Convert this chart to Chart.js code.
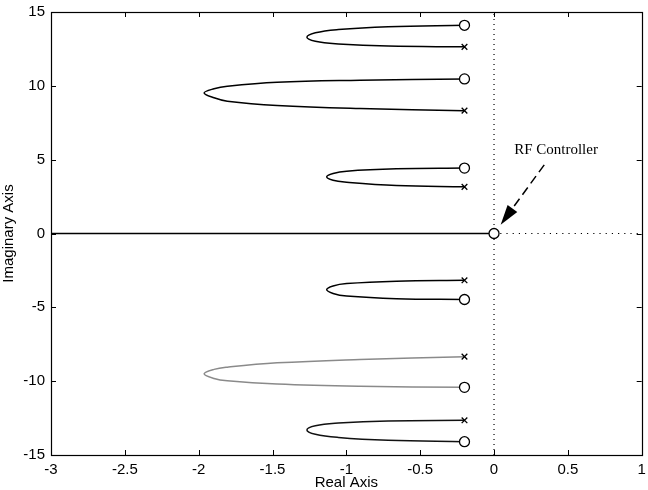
<!DOCTYPE html>
<html>
<head>
<meta charset="utf-8">
<script src="https://cdn.jsdelivr.net/npm/chart.js@4/dist/chart.umd.min.js"></script>
<style>
	html, body { margin: 0; padding: 0; background: #fff; }
</style>
</head>
<body>
<canvas id="locus" width="648" height="490"></canvas>
<script>
'use strict'

// axis ticks
const xTicks = [-3, -2.5, -2, -1.5, -1, -0.5, 0, 0.5, 1];
const yTicks = [-15, -10, -5, 0, 5, 10, 15];

// open-loop poles (x) and zeros (o)
const polesX = [-0.2, -0.2, -0.2, -0.2, -0.2, -0.2];
const polesY = [12.64, 8.32, 3.16, -3.17, -8.34, -12.65];
const zerosX = [-0.2, -0.2, -0.2, -0.2, -0.2, -0.2];
const zerosY = [14.1, 10.47, 4.43, -4.47, -10.42, -14.1];

// RF controller zero
const rfZeroX = [0];
const rfZeroY = [0];

// locus branches (zero -> tip -> pole)
const branch1X = [-0.2, -0.717, -1.054, -1.21, -1.267, -1.21, -1.054, -0.717, -0.2];
const branch1Y = [14.1, 14.0, 13.81, 13.59, 13.29, 13.02, 12.84, 12.69, 12.64];
const branch2X = [-0.2, -0.908, -1.469, -1.806, -1.896, -1.963, -1.896, -1.806, -1.469, -0.908, -0.2];
const branch2Y = [10.47, 10.38, 10.24, 9.97, 9.8, 9.52, 9.19, 8.96, 8.67, 8.46, 8.32];
const branch3X = [-0.2, -0.661, -0.998, -1.09, -1.133, -1.09, -0.998, -0.661, -0.2];
const branch3Y = [4.43, 4.38, 4.22, 4.06, 3.84, 3.6, 3.47, 3.25, 3.16];
const branch4X = [-0.2, -0.661, -0.998, -1.09, -1.133, -1.09, -0.998, -0.661, -0.2];
const branch4Y = [-3.17, -3.23, -3.39, -3.55, -3.8, -4.06, -4.24, -4.42, -4.47];
const branch5X = [-0.2, -0.908, -1.469, -1.806, -1.896, -1.963, -1.896, -1.806, -1.469, -0.908, -0.2];
const branch5Y = [-8.34, -8.53, -8.76, -9.05, -9.2, -9.5, -9.82, -9.98, -10.2, -10.35, -10.42];
const branch6X = [-0.2, -0.717, -1.054, -1.21, -1.267, -1.21, -1.054, -0.717, -0.2];
const branch6Y = [-12.65, -12.69, -12.84, -13.02, -13.3, -13.59, -13.81, -14.0, -14.1];

// real-axis branch and dotted axes
const realBranchX = [-3, 0];
const realBranchY = [0, 0];
const vAxisX = [0, 0];
const vAxisY = [-15, 15];
const hAxisX = [0, 1];
const hAxisY = [0, 0];

// annotation
const noteText = 'RF Controller';
const notePos = [0.42, 5.65];
const arrowFrom = [0.34, 4.65];
const arrowTo = [0.045, 0.6];

let pts = (xs, ys) => xs.map((x, i) => ({ x: x, y: ys[i] }));

let curve = (xs, ys, color) => ({
	data: pts(xs, ys),
	showLine: true,
	tension: 0.4,
	borderColor: color,
	borderWidth: 1.5,
	pointRadius: 0,
	fill: false
});

let boxTicks = {
	id: 'boxTicks',
	afterDatasetsDraw: (chart) => {
		let ctx = chart.ctx;
		let a = chart.chartArea;
		let xs = chart.scales.x;
		let ys = chart.scales.y;
		let len = 5;
		ctx.save();
		ctx.strokeStyle = '#000';
		ctx.lineWidth = 1;
		ctx.beginPath();
		xTicks.forEach((v) => {
			let px = Math.round(xs.getPixelForValue(v)) + 0.5;
			ctx.moveTo(px, a.bottom); ctx.lineTo(px, a.bottom - len);
			ctx.moveTo(px, a.top); ctx.lineTo(px, a.top + len);
		});
		yTicks.forEach((v) => {
			let py = Math.round(ys.getPixelForValue(v)) + 0.5;
			ctx.moveTo(a.left, py); ctx.lineTo(a.left + len, py);
			ctx.moveTo(a.right, py); ctx.lineTo(a.right - len, py);
		});
		ctx.stroke();
		ctx.lineWidth = 1.2;
		ctx.strokeRect(Math.round(a.left) + 0.5, Math.round(a.top) + 0.5,
			Math.round(a.right - a.left), Math.round(a.bottom - a.top));

		// annotation text
		ctx.fillStyle = '#000';
		ctx.font = '15px "Liberation Serif"';
		ctx.textAlign = 'center';
		ctx.textBaseline = 'middle';
		ctx.fillText(noteText, xs.getPixelForValue(notePos[0]), ys.getPixelForValue(notePos[1]));

		// dashed arrow
		let x0 = xs.getPixelForValue(arrowFrom[0]), y0 = ys.getPixelForValue(arrowFrom[1]);
		let x1 = xs.getPixelForValue(arrowTo[0]), y1 = ys.getPixelForValue(arrowTo[1]);
		let ang = Math.atan2(y1 - y0, x1 - x0);
		let head = 20;
		let hx = x1 - head * Math.cos(ang), hy = y1 - head * Math.sin(ang);
		ctx.lineWidth = 1.5;
		ctx.setLineDash([9, 5]);
		ctx.beginPath();
		ctx.moveTo(x0, y0);
		ctx.lineTo(hx, hy);
		ctx.stroke();
		ctx.setLineDash([]);
		ctx.beginPath();
		ctx.moveTo(x1, y1);
		ctx.lineTo(hx + 6 * Math.sin(ang), hy - 6 * Math.cos(ang));
		ctx.lineTo(hx - 6 * Math.sin(ang), hy + 6 * Math.cos(ang));
		ctx.closePath();
		ctx.fill();
		ctx.restore();
	}
};

let tickFont = { family: '"Liberation Sans", Arial, sans-serif', size: 15 };

new Chart(document.getElementById('locus'), {
	type: 'scatter',
	data: {
		datasets: [
			{
				data: pts(zerosX, zerosY).concat(pts(rfZeroX, rfZeroY)),
				pointStyle: 'circle',
				pointRadius: 5,
				backgroundColor: '#fff',
				borderColor: '#000',
				borderWidth: 1.3
			},
			{
				data: pts(polesX, polesY),
				pointStyle: 'crossRot',
				pointRadius: 4,
				borderColor: '#000',
				borderWidth: 1.3
			},
			curve(branch1X, branch1Y, '#000'),
			curve(branch2X, branch2Y, '#000'),
			curve(branch3X, branch3Y, '#000'),
			curve(branch4X, branch4Y, '#000'),
			curve(branch5X, branch5Y, '#8a8a8a'),
			curve(branch6X, branch6Y, '#111'),
			curve(realBranchX, realBranchY, '#000'),
			Object.assign(curve(vAxisX, vAxisY, '#000'), { borderDash: [1, 4], borderWidth: 1.2, tension: 0 }),
			Object.assign(curve(hAxisX, hAxisY, '#000'), { borderDash: [1.2, 5], borderWidth: 1.2, tension: 0 })
		]
	},
	options: {
		responsive: false,
		animation: false,
		devicePixelRatio: 1,
		layout: { padding: { top: 12, right: 1, left: 0, bottom: 0 } },
		plugins: { legend: { display: false }, tooltip: { enabled: false } },
		scales: {
			x: {
				type: 'linear',
				min: -3,
				max: 1,
				afterBuildTicks: (scale) => { scale.ticks = xTicks.map((v) => ({ value: v })); },
				afterFit: (scale) => { scale.height = 35; scale.paddingRight = 0; scale.paddingLeft = 0; },
				grid: { display: false, drawTicks: false },
				border: { display: false },
				ticks: { color: '#000', font: tickFont, padding: 6, maxRotation: 0, callback: (v) => String(v) },
				title: { display: true, text: 'Real Axis', color: '#000', font: tickFont, padding: { top: 0, bottom: -2 } }
			},
			y: {
				type: 'linear',
				min: -15,
				max: 15,
				afterBuildTicks: (scale) => { scale.ticks = yTicks.map((v) => ({ value: v })); },
				afterFit: (scale) => { scale.width = 51; scale.paddingTop = 0; scale.paddingBottom = 0; },
				grid: { display: false, drawTicks: false },
				border: { display: false },
				ticks: { color: '#000', font: tickFont, padding: 6, callback: (v) => String(v) },
				title: { display: true, text: 'Imaginary Axis', color: '#000', font: tickFont, padding: { top: 0, bottom: 0 } }
			}
		}
	},
	plugins: [boxTicks]
});
</script>
</body>
</html>
